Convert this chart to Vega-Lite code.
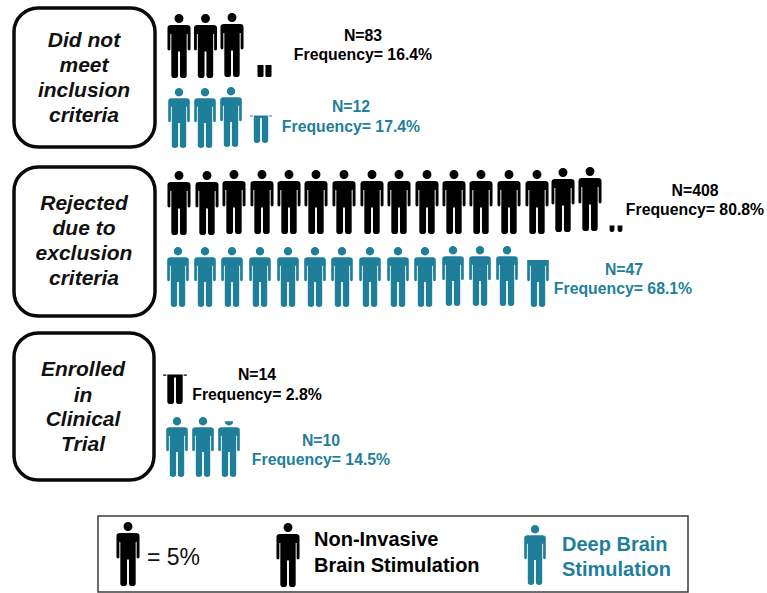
{"$schema":"https://vega.github.io/schema/vega-lite/v6.json","width":767,"height":593,"autosize":{"type":"fit","contains":"padding"},"padding":0,"background":"white","view":{"stroke":null},"datasets":{"boxes":[{"name":"Did not meet inclusion criteria","x":14,"x2":155,"y":8,"y2":147},{"name":"Rejected due to exclusion criteria","x":14,"x2":155,"y":167,"y2":316},{"name":"Enrolled in Clinical Trial","x":14,"x2":154,"y":333,"y2":480}],"legendBox":[{"x":98,"x2":688,"y":516,"y2":592}],"people":[{"x":179,"y":46,"series":"NIBS","part":"full"},{"x":205.5,"y":46,"series":"NIBS","part":"full"},{"x":232,"y":45,"series":"NIBS","part":"full"},{"x":264.5,"y":45,"series":"NIBS","part":"legs"},{"x":179,"y":118,"series":"DBS","part":"full"},{"x":205,"y":118,"series":"DBS","part":"full"},{"x":231,"y":117,"series":"DBS","part":"full"},{"x":261,"y":113,"series":"DBS","part":"hips"},{"x":179,"y":203,"series":"NIBS","part":"full"},{"x":207,"y":203,"series":"NIBS","part":"full"},{"x":234,"y":202,"series":"NIBS","part":"full"},{"x":262,"y":202,"series":"NIBS","part":"full"},{"x":289,"y":202,"series":"NIBS","part":"full"},{"x":316,"y":202,"series":"NIBS","part":"full"},{"x":344,"y":202,"series":"NIBS","part":"full"},{"x":372,"y":202,"series":"NIBS","part":"full"},{"x":399,"y":202,"series":"NIBS","part":"full"},{"x":427,"y":202,"series":"NIBS","part":"full"},{"x":454,"y":202,"series":"NIBS","part":"full"},{"x":481,"y":202,"series":"NIBS","part":"full"},{"x":509,"y":202,"series":"NIBS","part":"full"},{"x":537,"y":202,"series":"NIBS","part":"full"},{"x":563,"y":200,"series":"NIBS","part":"full"},{"x":590,"y":199,"series":"NIBS","part":"full"},{"x":616,"y":200,"series":"NIBS","part":"feet"},{"x":178,"y":277,"series":"DBS","part":"full"},{"x":205,"y":277,"series":"DBS","part":"full"},{"x":232,"y":277,"series":"DBS","part":"full"},{"x":260,"y":277,"series":"DBS","part":"full"},{"x":288,"y":277,"series":"DBS","part":"full"},{"x":315,"y":277,"series":"DBS","part":"full"},{"x":342,"y":277,"series":"DBS","part":"full"},{"x":370,"y":277,"series":"DBS","part":"full"},{"x":398,"y":277,"series":"DBS","part":"full"},{"x":425,"y":277,"series":"DBS","part":"full"},{"x":453,"y":276,"series":"DBS","part":"full"},{"x":480,"y":276,"series":"DBS","part":"full"},{"x":507,"y":276,"series":"DBS","part":"full"},{"x":538,"y":277,"series":"DBS","part":"torso"},{"x":175,"y":372,"series":"NIBS","part":"hips"},{"x":177,"y":447,"series":"DBS","part":"full"},{"x":203,"y":447,"series":"DBS","part":"full"},{"x":229,"y":447,"series":"DBS","part":"headcut"},{"x":128,"y":554,"series":"NIBS","part":"full"},{"x":288,"y":555,"series":"NIBS","part":"full"},{"x":535,"y":555,"series":"DBS","part":"full"}],"boxLabels":[{"t":"Did not","x":84,"y":41},{"t":"meet","x":84,"y":66},{"t":"inclusion","x":84,"y":91},{"t":"criteria","x":84,"y":116},{"t":"Rejected","x":84,"y":204},{"t":"due to","x":84,"y":229},{"t":"exclusion","x":84,"y":254},{"t":"criteria","x":84,"y":279},{"t":"Enrolled","x":83,"y":370},{"t":"in","x":83,"y":396},{"t":"Clinical","x":83,"y":420},{"t":"Trial","x":83,"y":445}],"stats":[{"t":"N=83","x":363,"y":36,"series":"NIBS"},{"t":"Frequency= 16.4%","x":363,"y":55,"series":"NIBS"},{"t":"N=12","x":351,"y":107,"series":"DBS"},{"t":"Frequency= 17.4%","x":351,"y":127,"series":"DBS"},{"t":"N=408","x":695,"y":191,"series":"NIBS"},{"t":"Frequency= 80.8%","x":695,"y":210,"series":"NIBS"},{"t":"N=47","x":624,"y":270,"series":"DBS"},{"t":"Frequency= 68.1%","x":623,"y":289,"series":"DBS"},{"t":"N=14","x":257,"y":375,"series":"NIBS"},{"t":"Frequency= 2.8%","x":257,"y":395,"series":"NIBS"},{"t":"N=10","x":321,"y":441,"series":"DBS"},{"t":"Frequency= 14.5%","x":321,"y":460,"series":"DBS"}],"legendText":[{"t":"Non-Invasive","x":314,"y":540,"series":"NIBS"},{"t":"Brain Stimulation","x":314,"y":566,"series":"NIBS"},{"t":"Deep Brain","x":562,"y":545,"series":"DBS"},{"t":"Stimulation","x":562,"y":570,"series":"DBS"}],"unit":[{"t":"= 5%","x":147,"y":558}]},"layer":[{"data":{"name":"boxes"},"mark":{"type":"rect","fill":"white","stroke":"#0a0a0a","strokeWidth":3.5,"cornerRadius":24},"encoding":{"x":{"field":"x","type":"quantitative","scale":{"domain":[0,767],"nice":false,"zero":false},"axis":null},"x2":{"field":"x2"},"y":{"field":"y","type":"quantitative","scale":{"domain":[593,0],"nice":false,"zero":false},"axis":null},"y2":{"field":"y2"}}},{"data":{"name":"legendBox"},"mark":{"type":"rect","fill":"white","stroke":"#3c3c3c","strokeWidth":1.5},"encoding":{"x":{"field":"x","type":"quantitative","axis":null},"x2":{"field":"x2"},"y":{"field":"y","type":"quantitative","axis":null},"y2":{"field":"y2"}}},{"data":{"name":"people"},"mark":{"type":"point","filled":true,"opacity":1,"strokeWidth":0},"encoding":{"x":{"field":"x","type":"quantitative","axis":null},"y":{"field":"y","type":"quantitative","axis":null},"color":{"field":"series","type":"nominal","scale":{"domain":["NIBS","DBS"],"range":["#000000","#1f7f9b"]},"legend":null},"size":{"field":"series","type":"nominal","scale":{"domain":["NIBS","DBS"],"range":[4096,3600]},"legend":null},"shape":{"field":"part","type":"nominal","legend":null,"scale":{"domain":["full","legs","hips","feet","torso","headcut"],"range":["M.14 -.86A.14 .14 0 1 1 -.14 -.86A.14 .14 0 1 1 .14 -.86ZM-.25 -.656L.25 -.656Q.36 -.656 .36 -.5625L.36 .094Q.36 .14 .31 .14Q.27 .14 .27 .094L.27 -.375L.24 -.375L.24 .92Q.24 1 .135 1Q.03 1 .03 .92L.03 .17L-.03 .17L-.03 .92Q-.03 1 -.135 1Q-.24 1 -.24 .92L-.24 -.375L-.27 -.375L-.27 .094Q-.27 .14 -.31 .14Q-.36 .14 -.36 .094L-.36 -.5625Q-.36 -.656 -.25 -.656Z","M.219 .625L.219 .96Q.219 1 .18 1L.07 1Q.03 1 .03 .96L.03 .625ZM-.03 .625L-.03 .96Q-.03 1 -.07 1L-.18 1Q-.219 1 -.219 .96L-.219 .625Z","M-.24 .08L.24 .08L.24 .92Q.24 1 .135 1Q.03 1 .03 .92L.03 .17L-.03 .17L-.03 .92Q-.03 1 -.135 1Q-.24 1 -.24 .92ZM.27 .08L.37 .08L.37 .12L.27 .12ZM-.37 .08L-.27 .08L-.27 .12L-.37 .12Z","M.2 .8L.2 .93Q.2 1 .13 1Q.05 1 .05 .93L.05 .8ZM-.05 .8L-.05 .93Q-.05 1 -.13 1Q-.2 1 -.2 .93L-.2 .8Z","M-.36 -.57L.36 -.57L.36 .094Q.36 .14 .31 .14Q.27 .14 .27 .094L.27 -.375L.24 -.375L.24 .92Q.24 1 .135 1Q.03 1 .03 .92L.03 .17L-.03 .17L-.03 .92Q-.03 1 -.135 1Q-.24 1 -.24 .92L-.24 -.375L-.27 -.375L-.27 .094Q-.27 .14 -.31 .14Q-.36 .14 -.36 .094Z","M-.14 -.86L.14 -.86A.14 .14 0 0 1 -.14 -.86ZM-.25 -.656L.25 -.656Q.36 -.656 .36 -.5625L.36 .094Q.36 .14 .31 .14Q.27 .14 .27 .094L.27 -.375L.24 -.375L.24 .92Q.24 1 .135 1Q.03 1 .03 .92L.03 .17L-.03 .17L-.03 .92Q-.03 1 -.135 1Q-.24 1 -.24 .92L-.24 -.375L-.27 -.375L-.27 .094Q-.27 .14 -.31 .14Q-.36 .14 -.36 .094L-.36 -.5625Q-.36 -.656 -.25 -.656Z"]}}}},{"data":{"name":"boxLabels"},"mark":{"type":"text","font":"Liberation Sans","fontSize":21,"fontWeight":"bold","fontStyle":"italic","align":"center","baseline":"middle","color":"#111111"},"encoding":{"x":{"field":"x","type":"quantitative","axis":null},"y":{"field":"y","type":"quantitative","axis":null},"text":{"field":"t"}}},{"data":{"name":"stats"},"mark":{"type":"text","font":"Liberation Sans","fontSize":15.8,"fontWeight":"bold","align":"center","baseline":"middle"},"encoding":{"x":{"field":"x","type":"quantitative","axis":null},"y":{"field":"y","type":"quantitative","axis":null},"text":{"field":"t"},"color":{"field":"series","type":"nominal","legend":null}}},{"data":{"name":"legendText"},"mark":{"type":"text","font":"Liberation Sans","fontSize":20,"fontWeight":"bold","align":"left","baseline":"middle"},"encoding":{"x":{"field":"x","type":"quantitative","axis":null},"y":{"field":"y","type":"quantitative","axis":null},"text":{"field":"t"},"color":{"field":"series","type":"nominal","legend":null}}},{"data":{"name":"unit"},"mark":{"type":"text","font":"Liberation Sans","fontSize":23,"align":"left","baseline":"middle","color":"#111111"},"encoding":{"x":{"field":"x","type":"quantitative","axis":null},"y":{"field":"y","type":"quantitative","axis":null},"text":{"field":"t"}}}]}
